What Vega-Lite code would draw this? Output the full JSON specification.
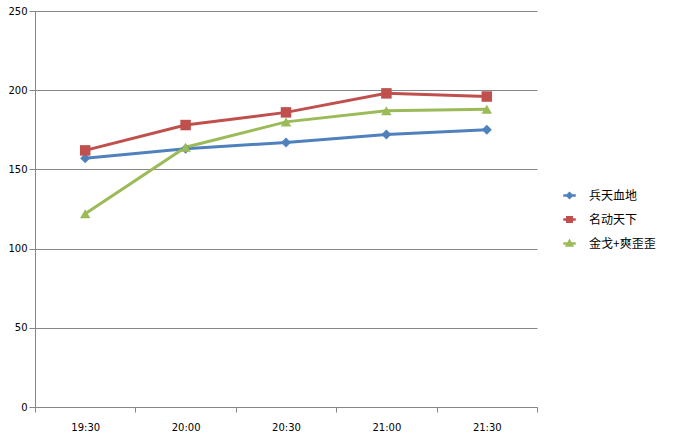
{
  "$schema": "https://vega.github.io/schema/vega-lite/v6.json",
  "width": 502,
  "height": 396,
  "autosize": {"type": "none"},
  "padding": {"left": 35, "top": 11, "right": 138, "bottom": 36},
  "background": "white",
  "config": {
    "view": {"stroke": null},
    "font": "DejaVu Sans"
  },
  "data": {
    "values": [
      {"time": "19:30", "series": "兵天血地", "value": 157},
      {"time": "20:00", "series": "兵天血地", "value": 163},
      {"time": "20:30", "series": "兵天血地", "value": 167},
      {"time": "21:00", "series": "兵天血地", "value": 172},
      {"time": "21:30", "series": "兵天血地", "value": 175},
      {"time": "19:30", "series": "名动天下", "value": 162},
      {"time": "20:00", "series": "名动天下", "value": 178},
      {"time": "20:30", "series": "名动天下", "value": 186},
      {"time": "21:00", "series": "名动天下", "value": 198},
      {"time": "21:30", "series": "名动天下", "value": 196},
      {"time": "19:30", "series": "金戈+爽歪歪", "value": 122},
      {"time": "20:00", "series": "金戈+爽歪歪", "value": 164},
      {"time": "20:30", "series": "金戈+爽歪歪", "value": 180},
      {"time": "21:00", "series": "金戈+爽歪歪", "value": 187},
      {"time": "21:30", "series": "金戈+爽歪歪", "value": 188}
    ]
  },
  "encoding": {
    "x": {
      "field": "time",
      "type": "ordinal",
      "bandPosition": 0.5,
      "scale": {"type": "band", "paddingInner": 0, "paddingOuter": 0},
      "axis": {
        "title": null,
        "labelAngle": 0,
        "tickBand": "extent",
        "domainColor": "#868686",
        "tickColor": "#868686",
        "tickSize": 5,
        "labelPadding": 10,
        "labelFontSize": 10,
        "labelColor": "#000000",
        "grid": false
      }
    },
    "y": {
      "field": "value",
      "type": "quantitative",
      "scale": {"domain": [0, 250], "nice": false},
      "axis": {
        "title": null,
        "values": [0, 50, 100, 150, 200, 250],
        "gridColor": "#868686",
        "domainColor": "#868686",
        "tickColor": "#868686",
        "tickSize": 6,
        "labelPadding": 2,
        "labelFontSize": 10,
        "labelColor": "#000000"
      }
    },
    "color": {
      "field": "series",
      "type": "nominal",
      "sort": ["兵天血地", "名动天下", "金戈+爽歪歪"],
      "scale": {
        "domain": ["兵天血地", "名动天下", "金戈+爽歪歪"],
        "range": ["#4F81BD", "#C0504D", "#9BBB59"]
      },
      "legend": {
        "title": null,
        "orient": "none",
        "legendX": 528,
        "legendY": 178,
        "labelFont": "Noto Sans CJK SC",
        "labelFontSize": 12,
        "labelColor": "#000000",
        "rowPadding": 9,
        "symbolSize": 100,
        "labelOffset": 13,
        "encode": {
          "symbols": {
            "update": {
              "shape": {"signal": "datum.value === '兵天血地' ? 'M-1.25,0H1.25M-0.45,0L0,-0.45L0.45,0L0,0.45Z' : datum.value === '名动天下' ? 'M-1.25,0H1.25M-0.45,-0.45H0.45V0.45H-0.45Z' : 'M-1.25,0H1.25M-0.5,0.4L0,-0.5L0.5,0.4Z'"},
              "fill": {"signal": "scale('color', datum.value)"},
              "stroke": {"signal": "scale('color', datum.value)"},
              "strokeWidth": {"value": 2.5},
              "opacity": {"value": 1}
            }
          }
        }
      }
    }
  },
  "layer": [
    {
      "mark": {"type": "line", "strokeWidth": 3}
    },
    {
      "transform": [{"filter": "datum.series === '兵天血地'"}],
      "mark": {"type": "point", "filled": true, "opacity": 1, "size": 100, "shape": "diamond"}
    },
    {
      "transform": [{"filter": "datum.series === '名动天下'"}],
      "mark": {"type": "point", "filled": true, "opacity": 1, "size": 110, "shape": "square"}
    },
    {
      "transform": [{"filter": "datum.series === '金戈+爽歪歪'"}],
      "mark": {"type": "point", "filled": true, "opacity": 1, "size": 110, "shape": "triangle-up"}
    }
  ]
}
